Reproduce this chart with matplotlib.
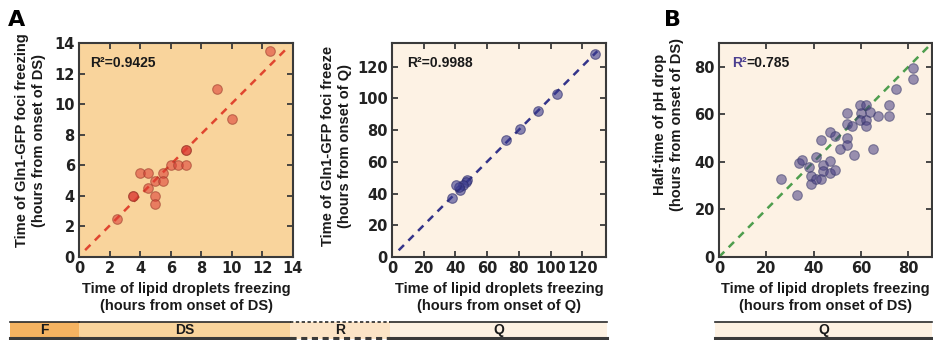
import matplotlib
matplotlib.use("Agg")
import matplotlib.pyplot as plt
from matplotlib import font_manager as fm
from matplotlib.patches import Rectangle
from matplotlib.lines import Line2D

# ---------------- data ----------------
a1_x = [12.5, 9, 10, 7, 7, 6, 6.5, 7, 4, 4.5, 5.5, 5, 5.5, 4.5, 3.5, 3.5, 5, 5, 2.5]
a1_y = [13.5, 11, 9, 7, 7, 6, 6, 6, 5.5, 5.5, 5.5, 5, 5, 4.5, 4, 4, 4, 3.5, 2.5]
a1_fit_x = [0.4, 13.6]
a1_fit_y = [0.45, 13.65]
a1_r2 = "0.9425"
a1_ticks = [0, 2, 4, 6, 8, 10, 12, 14]

a2_x = [128, 104, 92, 81, 72, 47.5, 46.5, 45, 43, 42.5, 40.5, 38]
a2_y = [128, 103, 92, 81, 73.5, 48.5, 47, 45.5, 42.5, 44, 45.5, 37]
a2_fit_x = [4.2, 129.5]
a2_fit_y = [4.2, 129.8]
a2_r2 = "0.9988"
a2_ticks = [0, 20, 40, 60, 80, 100, 120]

b_x = [26, 33, 34, 35, 38, 41, 39, 39, 41, 43, 44, 44, 43, 47, 47, 49, 47, 49, 51,
       54, 54, 54, 54, 56, 57, 59.5, 60, 59.5, 62, 62, 62, 64, 65, 67, 72, 72, 75, 82, 82]
b_y = [33, 26, 39.5, 41, 38, 42, 34, 30.5, 33, 33, 38.5, 36, 49, 40.5, 35.5, 36.5, 52.5, 51, 45.5,
       60.5, 56, 50, 47, 55, 43, 64, 60.5, 57.5, 64, 57.5, 55, 61, 45.5, 59.5, 64, 59.5, 70.5, 79.5, 75]
b_fit_x = [0, 90]
b_fit_y = [0, 90]
b_r2 = "0.785"
b_ticks = [0, 20, 40, 60, 80]

stage_labels = ["F", "DS", "R", "Q", "Q"]

# ---------------- fonts ----------------
names = {f.name for f in fm.fontManager.ttflist}
lbl_family = "Liberation Sans" if "Liberation Sans" in names else "DejaVu Sans"
LBL = dict(family=[lbl_family, "DejaVu Sans"], weight="bold")

plt.rcParams["font.family"] = ["DejaVu Sans"]
plt.rcParams["font.weight"] = "bold"

W, H = 933, 340
fig = plt.figure(figsize=(W / 100, H / 100), dpi=100)
fig.patch.set_facecolor("white")

def px_rect(l, r, t, b):
    return [l / W, 1 - b / H, (r - l) / W, (b - t) / H]

BG_A1 = "#F9D49C"
BG_Q = "#FDF2E4"
SPINE = "#3a3a3a"
TXT = "#1a1a1a"

def style(ax, lim, ticks, bg):
    ax.set_facecolor(bg)
    ax.set_xlim(*lim)
    ax.set_ylim(*lim)
    ax.set_xticks(ticks)
    ax.set_yticks(ticks)
    ax.tick_params(direction="in", length=4, width=1.3, top=True, right=True,
                   labelsize=10.5, colors=SPINE, labelcolor="#222222", pad=3)
    for lab in ax.get_xticklabels() + ax.get_yticklabels():
        lab.set_fontweight("bold")
    for s in ax.spines.values():
        s.set_color(SPINE)
        s.set_linewidth(1.5)

LAB_FS = 10.5
R2_FS = 10

# Panel A1
ax1 = fig.add_axes(px_rect(79, 293, 43, 257))
style(ax1, (0, 14), a1_ticks, BG_A1)
ax1.plot(a1_fit_x, a1_fit_y, ls=(0, (3, 2.5)), color="#E0452F", lw=1.8, zorder=2)
ax1.scatter(a1_x, a1_y, s=48, color="#DD3E35", alpha=0.58, edgecolor="#9A3A2A",
            linewidth=0.8, zorder=3)
ax1.text(0.05, 0.905, "R²=" + a1_r2, transform=ax1.transAxes, fontsize=R2_FS,
         va="center", ha="left", color=TXT, **LBL)
ax1.set_xlabel("Time of lipid droplets freezing\n(hours from onset of DS)",
               fontsize=LAB_FS, linespacing=1.3, labelpad=4, color=TXT, **LBL)
ax1.set_ylabel("Time of Gln1-GFP foci freezing\n(hours from onset of DS)",
               fontsize=LAB_FS, linespacing=1.3, color=TXT, **LBL)
ax1.yaxis.set_label_coords(-0.155, 0.545)

# Panel A2
ax2 = fig.add_axes(px_rect(392, 606, 43, 257))
style(ax2, (0, 135), a2_ticks, BG_Q)
ax2.plot(a2_fit_x, a2_fit_y, ls=(0, (3, 2.5)), color="#34348A", lw=1.8, zorder=2)
ax2.scatter(a2_x, a2_y, s=48, color="#3A3A8E", alpha=0.6, edgecolor="#2a2a6a",
            linewidth=0.8, zorder=3)
ax2.text(0.07, 0.905, "R²=" + a2_r2, transform=ax2.transAxes, fontsize=R2_FS,
         va="center", ha="left", color=TXT, **LBL)
ax2.set_xlabel("Time of lipid droplets freezing\n(hours from onset of Q)",
               fontsize=LAB_FS, linespacing=1.3, labelpad=4, color=TXT, **LBL)
ax2.set_ylabel("Time of Gln1-GFP foci freeze\n(hours from onset of Q)",
               fontsize=LAB_FS, linespacing=1.3, color=TXT, **LBL)
ax2.yaxis.set_label_coords(-0.187, 0.52)

# Panel B
ax3 = fig.add_axes(px_rect(719, 932, 43, 257))
style(ax3, (0, 90), b_ticks, BG_Q)
ax3.plot(b_fit_x, b_fit_y, ls=(0, (3, 2.5)), color="#4E9E4E", lw=1.8, zorder=2)
ax3.scatter(b_x, b_y, s=48, color="#463C82", alpha=0.55, edgecolor="#3a3a6a",
            linewidth=0.8, zorder=3)
t1 = ax3.text(0.06, 0.905, "R²", transform=ax3.transAxes, fontsize=R2_FS,
              va="center", ha="left", color="#4B3F8F", **LBL)
ax3.annotate("=" + b_r2, xy=(1, 0.5), xycoords=t1, va="center", ha="left",
             fontsize=R2_FS, color=TXT, **LBL)
ax3.set_xlabel("Time of lipid droplets freezing\n(hours from onset of DS)",
               fontsize=LAB_FS, linespacing=1.3, labelpad=4, color=TXT, **LBL)
ax3.set_ylabel("Half-time of pH drop\n(hours from onset of DS)",
               fontsize=LAB_FS, linespacing=1.3, color=TXT, **LBL)
ax3.yaxis.set_label_coords(-0.164, 0.62)

# Panel letters
fig.text(17 / W, 1 - 20 / H, "A", fontsize=16, weight="bold", ha="center", va="center")
fig.text(673 / W, 1 - 20 / H, "B", fontsize=16, weight="bold", ha="center", va="center")

# ---------------- stage bar ----------------
def ax_px(ax):
    bb = ax.get_position()
    return bb.x0 * W, bb.x1 * W

l1, r1 = ax_px(ax1)
l2, r2 = ax_px(ax2)
l3, r3 = ax_px(ax3)
bar_top, bar_bot = 321.5, 338.5
segs = [
    (10, l1, "#F5B361", "solid"),
    (l1, r1 - 3, "#F9D49C", "solid"),
    (r1 - 3, l2 - 2, "#FCE4C6", "dashed"),
    (l2 - 2, r2 + 1, "#FDF1E2", "solid"),
    (l3 - 4, r3, "#FDF1E2", "solid"),
]
for (x0, x1, col, ls), lab in zip(segs, stage_labels):
    fig.patches.append(Rectangle((x0 / W, 1 - bar_bot / H), (x1 - x0) / W,
                                 (bar_bot - bar_top) / H, transform=fig.transFigure,
                                 facecolor=col, edgecolor="none", zorder=0))
    lsty = (0, (2, 1.5)) if ls == "dashed" else "-"
    fig.lines.append(Line2D([x0 / W, x1 / W], [1 - bar_top / H] * 2, transform=fig.transFigure,
                            color="#2a2a2a", lw=1.2, ls=lsty))
    fig.lines.append(Line2D([x0 / W, x1 / W], [1 - (bar_bot - 0.5) / H] * 2,
                            transform=fig.transFigure, color="#3a3a3a", lw=2.2, ls=lsty))
    fig.text((x0 + x1) / 2 / W, 1 - (bar_top + bar_bot) / 2 / H, lab, ha="center",
             va="center", fontsize=10, color=TXT, **LBL)

fig.savefig("out.png", dpi=100)
